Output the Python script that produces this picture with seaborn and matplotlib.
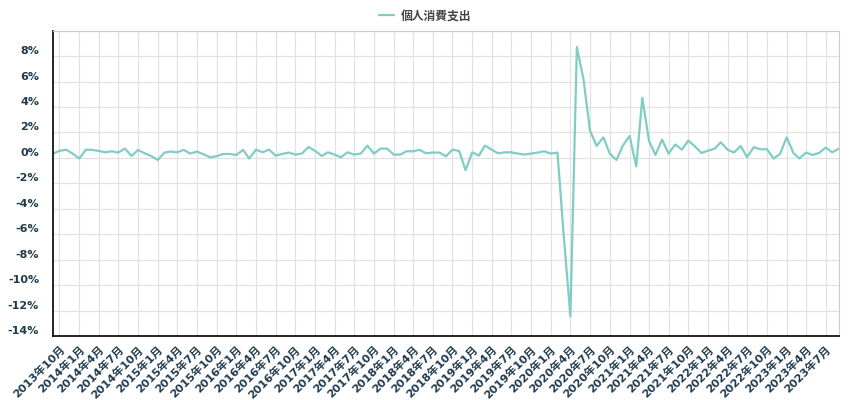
import pandas as pd
import matplotlib
matplotlib.use("Agg")
import matplotlib.pyplot as plt
from matplotlib.transforms import ScaledTranslation
import seaborn as sns

# --- data: monthly change of personal consumption expenditure (%) ---
months = pd.date_range("2013-09-01", "2023-09-01", freq="MS")
values_2013_2016 = [0.34, 0.55, 0.65, 0.34, -0.05, 0.65, 0.63, 0.55, 0.44, 0.52, 0.42,
                    0.73, 0.15, 0.63, 0.36, 0.15, -0.16, 0.42, 0.50, 0.44, 0.63, 0.34,
                    0.50, 0.29, 0.05, 0.13, 0.31, 0.31, 0.23, 0.63, -0.05]
values_2016_2018 = [0.65, 0.44, 0.65, 0.18, 0.31, 0.42, 0.26, 0.34, 0.86, 0.55, 0.15,
                    0.44, 0.26, 0.05, 0.44, 0.26, 0.34, 0.97, 0.34, 0.73, 0.73, 0.26,
                    0.26, 0.52, 0.52, 0.63, 0.36, 0.42, 0.42, 0.13]
values_2018_2020 = [0.65, 0.55, -0.97, 0.44, 0.18, 0.97, 0.65, 0.36, 0.44, 0.44, 0.34,
                    0.26, 0.34, 0.42, 0.52, 0.34, 0.42, -6.1, -12.45, 8.72]
values_2020_2023 = [6.16, 2.15, 0.94, 1.62, 0.34, -0.16, 0.97, 1.73, -0.66, 4.72, 1.36,
                    0.23, 1.44, 0.34, 1.05, 0.65, 1.36, 0.90, 0.39, 0.57, 0.73, 1.23,
                    0.65, 0.42, 0.94, 0.05, 0.84, 0.68, 0.68, -0.05, 0.31, 1.62, 0.39,
                    -0.05, 0.42, 0.23, 0.39, 0.81, 0.44, 0.73]
values = values_2013_2016 + values_2016_2018 + values_2018_2020 + values_2020_2023
series_name = "個人消費支出"

df = pd.DataFrame({"month": months, "pct": values})

tick_dates = pd.date_range("2013-10-01", "2023-07-01", freq="3MS")
tick_labels = [f"{d.year}年{d.month}月" for d in tick_dates]
y_ticks = list(range(-14, 9, 2))

# --- plot ---
sns.set_style("white")
plt.rcParams["font.family"] = ["DejaVu Sans", "Noto Sans CJK JP"]

fig = plt.figure(figsize=(8.5, 4), dpi=100)
ax = fig.add_axes([53 / 850, 1 - 336 / 400, (839 - 53) / 850, (336 - 30.7) / 400])

sns.lineplot(data=df, x="month", y="pct", ax=ax, color="#7fcdc5",
             linewidth=1.6, label=series_name, legend=False)

ax.set_xlim(months[0], months[-1])
ax.set_ylim(-14, 10)

# grid
for v in range(-14, 11, 2):
    ax.axhline(v, color="#e2e2e2", linewidth=0.9, zorder=0)
for d in tick_dates:
    ax.axvline(d, color="#e2e2e2", linewidth=0.9, zorder=0)

ax.set_xticks(tick_dates)
ax.set_xticklabels(tick_labels, rotation=45, ha="right", rotation_mode="anchor",
                   fontsize=8, fontweight="bold", color="#1f3a4d")
ax.tick_params(axis="x", length=4, width=0.8, color="#c8d6e8", pad=2)

ax.set_yticks(y_ticks)
ax.set_yticklabels([f"{v}%" for v in y_ticks], fontsize=8, fontweight="bold",
                   color="#1f3a4d")
ax.tick_params(axis="y", length=0, pad=10)
offset = ScaledTranslation(0, 0.06, fig.dpi_scale_trans)
for lab in ax.get_yticklabels():
    lab.set_transform(lab.get_transform() + offset)

ax.set_xlabel("")
ax.set_ylabel("")

ax.spines["left"].set_color("black")
ax.spines["bottom"].set_color("black")
ax.spines["left"].set_linewidth(1.2)
ax.spines["bottom"].set_linewidth(1.2)
ax.spines["top"].set_color("#cccccc")
ax.spines["right"].set_color("#cccccc")

handles, labels = ax.get_legend_handles_labels()
leg = fig.legend(handles, labels, loc="center", bbox_to_anchor=(0.5, 1 - 16 / 400),
                 frameon=False, handlelength=1.3, handletextpad=0.5,
                 prop={"family": ["Noto Sans CJK JP"], "size": 8.5, "weight": "bold"})
for t in leg.get_texts():
    t.set_color("#444444")

fig.savefig("out.png", dpi=100)
